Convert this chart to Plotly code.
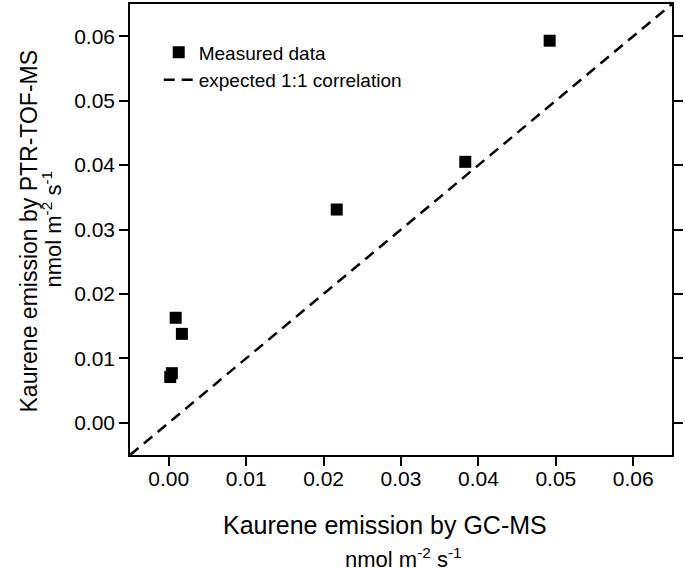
import plotly.graph_objects as go

# Data (nmol m-2 s-1)
gcms = [0.0002, 0.0004, 0.0009, 0.0017, 0.0217, 0.0383, 0.0492]
ptr = [0.0071, 0.0077, 0.0163, 0.0138, 0.0331, 0.0405, 0.0593]
one_to_one = [-0.005, 0.065]
tick_vals = [0.00, 0.01, 0.02, 0.03, 0.04, 0.05, 0.06]
tick_text = ["0.00", "0.01", "0.02", "0.03", "0.04", "0.05", "0.06"]

FONT = "Arial, Liberation Sans, sans-serif"

fig = go.Figure()
fig.add_trace(go.Scatter(
    x=gcms, y=ptr, mode="markers", name="Measured data",
    marker=dict(symbol="square", size=12, color="black"),
))
fig.add_trace(go.Scatter(
    x=one_to_one, y=one_to_one, mode="lines", name="expected 1:1 correlation",
    line=dict(color="black", width=2.5, dash="11px,7px"),
))

axis_common = dict(
    showgrid=False, zeroline=False, showline=True, linecolor="black", linewidth=1.5,
    ticks="outside", ticklen=9, tickwidth=1.5, tickcolor="black",
    tickfont=dict(family=FONT, size=21, color="black"),
    tickvals=tick_vals, ticktext=tick_text,
)
fig.update_xaxes(range=[-0.005, 0.065], mirror=True, ticklabelstandoff=-5, **axis_common)
fig.update_yaxes(range=[-0.005, 0.065], mirror="ticks", **axis_common)

fig.update_layout(
    width=685, height=571,
    margin=dict(l=130, r=3, t=2, b=116),
    paper_bgcolor="white", plot_bgcolor="white",
    font=dict(family=FONT, color="black"),
    showlegend=True,
    legend=dict(x=0.053, y=0.935, xanchor="left", yanchor="top",
                bgcolor="rgba(0,0,0,0)", font=dict(family=FONT, size=19, color="black"),
                tracegroupgap=0, itemwidth=30),
    annotations=[
        dict(text="Kaurene emission by GC-MS", xref="paper", yref="paper",
             x=0.471, y=0, yshift=-70, xanchor="center", yanchor="middle",
             showarrow=False, font=dict(family=FONT, size=25)),
        dict(text="nmol m<sup>-2</sup> s<sup>-1</sup>", xref="paper", yref="paper",
             x=0.504, y=0, yshift=-103, xanchor="center", yanchor="middle",
             showarrow=False, font=dict(family=FONT, size=22)),
        dict(text="Kaurene emission by PTR-TOF-MS", xref="paper", yref="paper",
             x=0, xshift=-102, y=0.5, yshift=-2, xanchor="center", yanchor="middle",
             textangle=-90, showarrow=False, font=dict(family=FONT, size=23)),
        dict(text="nmol m<sup>-2</sup> s<sup>-1</sup>", xref="paper", yref="paper",
             x=0, xshift=-79, y=0.5, yshift=0, xanchor="center", yanchor="middle",
             textangle=-90, showarrow=False, font=dict(family=FONT, size=22)),
    ],
)

fig.write_html("out.html", config={"displayModeBar": False},
               post_script="document.body.style.margin='0';")
